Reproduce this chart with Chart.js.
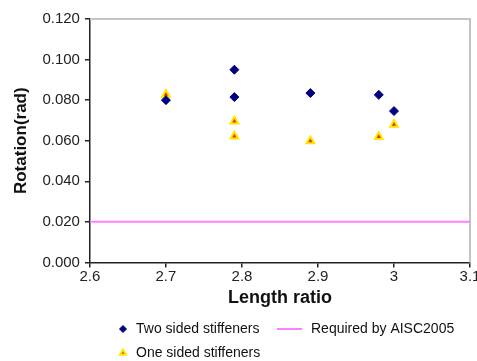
<!DOCTYPE html>
<html>
<head>
<meta charset="utf-8">
<script src="https://cdn.jsdelivr.net/npm/chart.js@4/dist/chart.umd.min.js"></script>
<style>
  html, body { margin: 0; padding: 0; background: #fff; }
  #wrap { width: 477px; height: 361px; }
</style>
</head>
<body>
<div id="wrap"><canvas id="rotChart" width="477" height="361"></canvas></div>
<script>
// data
const twoSidedX = [2.7, 2.79, 2.79, 2.89, 2.98, 3.0];
const twoSidedY = [0.080, 0.095, 0.0815, 0.0835, 0.0826, 0.0746];
const oneSidedX = [2.7, 2.79, 2.79, 2.89, 2.98, 3.0];
const oneSidedY = [0.0828, 0.0696, 0.0622, 0.0598, 0.0619, 0.068];
const requiredX = [2.6, 3.1];
const requiredY = [0.02, 0.02];
const xTickLabels = ['2.6', '2.7', '2.8', '2.9', '3', '3.1'];
const yTickLabels = ['0.000', '0.020', '0.040', '0.060', '0.080', '0.100', '0.120'];
const seriesNames = ['Two sided stiffeners', 'Required by AISC2005', 'One sided stiffeners'];

const toPoints = (xs, ys) => xs.map((x, i) => ({ x: x, y: ys[i] }));

const FONT = "'Liberation Sans', Arial, sans-serif";

// gray frame on top and right of the plot
const framePlugin = {
    id: 'frame',
    beforeDatasetsDraw(chart) {
        const { ctx, chartArea: a } = chart;
        ctx.save();
        ctx.strokeStyle = '#c4c4c4';
        ctx.lineWidth = 2;
        ctx.beginPath();
        ctx.moveTo(a.left, a.top);
        ctx.lineTo(a.right, a.top);
        ctx.lineTo(a.right, a.bottom);
        ctx.stroke();
        ctx.restore();
    }
};

// legend laid out like the original (two rows, left aligned)
const legendPlugin = {
    id: 'customLegend',
    afterDraw(chart) {
        const ctx = chart.ctx;
        const ds = chart.data.datasets;
        const items = [
            { d: ds[0], x: 123, y: 329 },
            { d: ds[1], x: 290, y: 329 },
            { d: ds[2], x: 123, y: 353 }
        ];
        ctx.save();
        ctx.font = '14px ' + FONT;
        ctx.textBaseline = 'middle';
        items.forEach(it => {
            const d = it.d;
            if (d.showLine) {
                ctx.strokeStyle = d.borderColor;
                ctx.lineWidth = d.borderWidth;
                ctx.beginPath();
                ctx.moveTo(it.x - 13, it.y);
                ctx.lineTo(it.x + 12, it.y);
                ctx.stroke();
                ctx.fillStyle = '#111';
                ctx.fillText(d.label, it.x + 21, it.y);
            } else {
                ctx.fillStyle = d.backgroundColor;
                ctx.strokeStyle = d.borderColor;
                Chart.helpers.drawPoint(ctx, {
                    pointStyle: d.pointStyle,
                    radius: 3.5,
                    rotation: 0,
                    borderWidth: d.borderWidth - 0.5
                }, it.x, it.y);
                ctx.fillStyle = '#111';
                ctx.fillText(d.label, it.x + 13, it.y);
            }
        });
        ctx.restore();
    }
};

new Chart(document.getElementById('rotChart'), {
    type: 'scatter',
    data: {
        datasets: [
            {
                label: seriesNames[0],
                data: toPoints(twoSidedX, twoSidedY),
                pointStyle: 'rectRot',
                pointRadius: 4.5,
                backgroundColor: '#000080',
                borderColor: '#000080',
                borderWidth: 1
            },
            {
                type: 'line',
                label: seriesNames[1],
                data: toPoints(requiredX, requiredY),
                showLine: true,
                borderColor: '#ff80ff',
                borderWidth: 2,
                pointRadius: 0,
                fill: false
            },
            {
                label: seriesNames[2],
                data: toPoints(oneSidedX, oneSidedY),
                pointStyle: 'triangle',
                pointRadius: 4.5,
                backgroundColor: '#f03000',
                borderColor: '#ffe800',
                borderWidth: 2
            }
        ]
    },
    options: {
        responsive: false,
        animation: false,
        layout: { padding: { left: 11, right: 7, top: 19, bottom: 52 } },
        plugins: {
            legend: { display: false },
            tooltip: { enabled: false }
        },
        scales: {
            x: {
                type: 'linear',
                min: 2.6,
                max: 3.1,
                // the last label runs off the right edge in the original
                afterFit: scale => { scale.paddingRight = 0; },
                ticks: {
                    stepSize: 0.1,
                    color: '#222',
                    font: { family: FONT, size: 15 },
                    padding: 0,
                    maxRotation: 0,
                    callback: (v, i) => xTickLabels[i]
                },
                grid: { drawOnChartArea: false, drawTicks: true, tickLength: 5, color: '#222', lineWidth: 1.5 },
                border: { display: true, color: '#222', width: 1.5 },
                title: {
                    display: true,
                    text: 'Length ratio',
                    color: '#111',
                    font: { family: FONT, size: 18, weight: 'bold' },
                    padding: { top: 2, bottom: 0 }
                }
            },
            y: {
                type: 'linear',
                min: 0,
                max: 0.12,
                ticks: {
                    stepSize: 0.02,
                    color: '#222',
                    font: { family: FONT, size: 15 },
                    padding: 5,
                    callback: (v, i) => yTickLabels[i]
                },
                grid: { drawOnChartArea: false, drawTicks: true, tickLength: 5, color: '#222', lineWidth: 1.5 },
                border: { display: true, color: '#222', width: 1.5 },
                title: {
                    display: true,
                    text: 'Rotation(rad)',
                    color: '#111',
                    font: { family: FONT, size: 17, weight: 'bold' },
                    padding: { top: 0, bottom: 6 }
                }
            }
        }
    },
    plugins: [framePlugin, legendPlugin]
});
</script>
</body>
</html>
